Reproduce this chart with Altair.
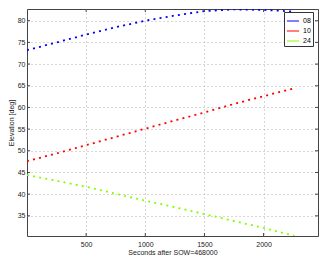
import altair as alt
import pandas as pd

t = [0, 250, 500, 750, 1000, 1250, 1500, 1750, 2000, 2260]
sat08 = [73.2, 75.0, 76.8, 78.5, 80.0, 81.2, 82.2, 82.6, 82.5, 82.1]
sat10 = [47.6, 49.4, 51.3, 53.2, 55.1, 57.0, 58.85, 60.8, 62.6, 64.4]
sat24 = [44.4, 43.1, 41.7, 40.1, 38.5, 37.0, 35.4, 33.8, 32.2, 30.4]
names = ["08", "10", "24"]
colors = ["#0000ff", "#ff0000", "#80ff00"]
xticks = [500, 1000, 1500, 2000]
yticks = [35, 40, 45, 50, 55, 60, 65, 70, 75, 80]
xdom = [0, 2460]
ydom = [30.35, 82.7]

rows = []
for name, vals in zip(names, [sat08, sat10, sat24]):
    for ti, v in zip(t, vals):
        rows.append({"t": ti, "elev": v, "sat": name})
df = pd.DataFrame(rows)

W, H = 291, 227
FONT = "Liberation Sans"
XTITLE = "Seconds after SOW=468000"
YTITLE = "Elevation [deg]"

xs = alt.Scale(domain=xdom, nice=False, zero=False)
ys = alt.Scale(domain=ydom, nice=False, zero=False)
xaxis = alt.Axis(values=xticks, format="d", grid=True, gridColor="#b0b0b0", gridDash=[1, 3],
                 tickSize=0, labelPadding=4, titlePadding=1, domain=False,
                 labelOverlap=False, labelFlush=False, labelFontSize=7, titleFontSize=7,
                 labelFont=FONT, titleFont=FONT, titleFontWeight="normal",
                 labelColor="#222222", titleColor="#222222")
yaxis = alt.Axis(values=yticks, format="d", grid=True, gridColor="#b0b0b0", gridDash=[1, 3],
                 tickSize=0, labelPadding=2, titlePadding=3, domain=False,
                 labelOverlap=False, labelFlush=False, labelFontSize=7, titleFontSize=7,
                 labelFont=FONT, titleFont=FONT, titleFontWeight="normal",
                 labelColor="#222222", titleColor="#222222")

lines = alt.Chart(df).mark_line(strokeDash=[2, 4.2], strokeWidth=1.8, clip=True).encode(
    x=alt.X("t:Q", scale=xs, title=XTITLE, axis=xaxis),
    y=alt.Y("elev:Q", scale=ys, title=YTITLE, axis=yaxis),
    color=alt.Color("sat:N", scale=alt.Scale(domain=names, range=colors),
                    legend=alt.Legend(title=None, orient="none", legendX=W - 34, legendY=3,
                                      symbolType="stroke", symbolStrokeWidth=1, symbolSize=150,
                                      labelFontSize=7, labelFont=FONT, strokeColor="#333333",
                                      fillColor="white", padding=2, rowPadding=0, labelOffset=3,
                                      symbolOffset=0, offset=0)),
)

xt = pd.DataFrame({"v": xticks})
yt = pd.DataFrame({"v": yticks})
tk = dict(color="#444444", strokeWidth=1)
bx = alt.Chart(xt).mark_rule(**tk).encode(x=alt.X("v:Q", scale=xs, title=XTITLE, axis=xaxis), y=alt.value(H), y2=alt.value(H - 3))
tx = alt.Chart(xt).mark_rule(**tk).encode(x=alt.X("v:Q", scale=xs, title=XTITLE, axis=xaxis), y=alt.value(0), y2=alt.value(3))
ly = alt.Chart(yt).mark_rule(**tk).encode(y=alt.Y("v:Q", scale=ys, title=YTITLE, axis=yaxis), x=alt.value(0), x2=alt.value(3))
ry = alt.Chart(yt).mark_rule(**tk).encode(y=alt.Y("v:Q", scale=ys, title=YTITLE, axis=yaxis), x=alt.value(W), x2=alt.value(W - 3))

chart = alt.layer(lines, bx, tx, ly, ry).properties(
    width=W, height=H,
    background="white",
    autosize=alt.AutoSizeParams(type="none"),
    padding={"left": 19, "top": 1, "right": 1, "bottom": 19},
).configure_view(stroke="#444444", strokeWidth=1)

chart.save("out.html", embed_options={"renderer": "svg", "actions": False})
